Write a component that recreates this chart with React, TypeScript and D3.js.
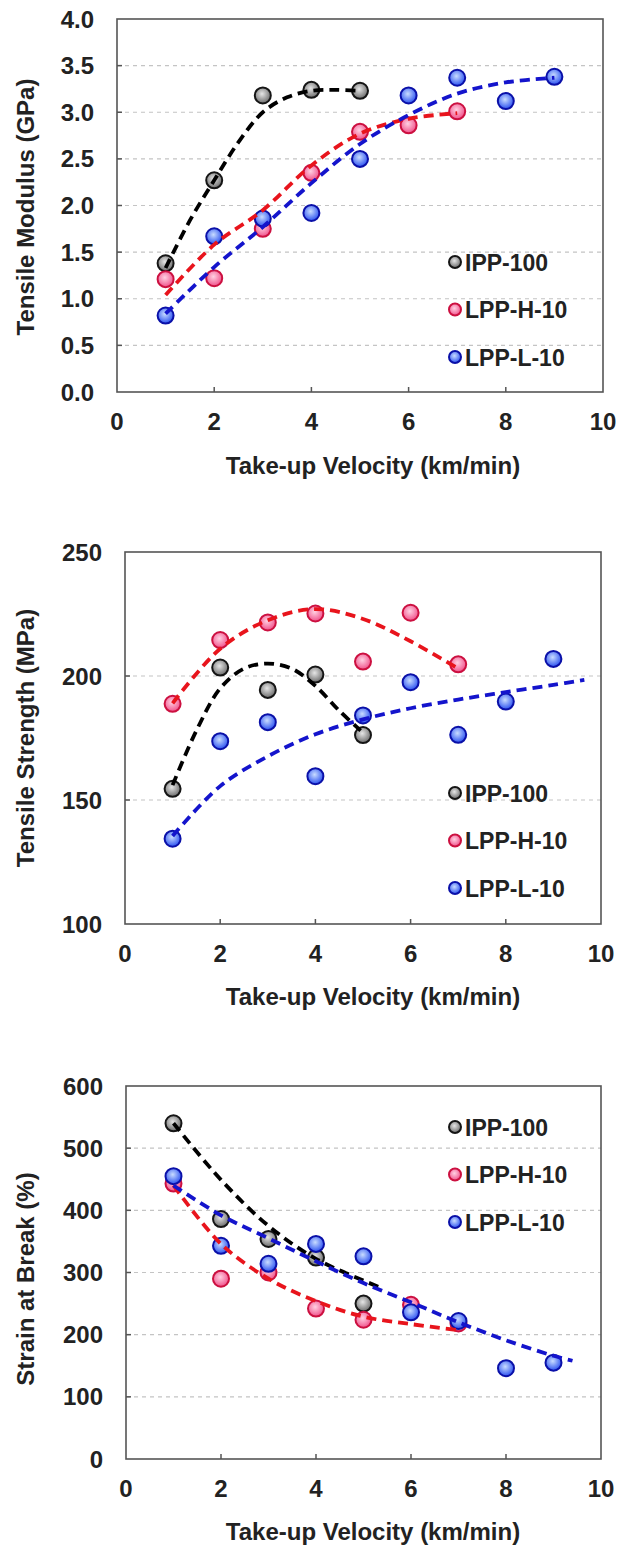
import React from "react";
import * as d3 from "d3";

// ---------- data ----------
const velocity = [1, 2, 3, 4, 5, 6, 7, 8, 9];
const xTicks = [0, 2, 4, 6, 8, 10];
const seriesNames = ["IPP-100", "LPP-H-10", "LPP-L-10"];

// Tensile modulus (GPa)
const modIPP = [1.38, 2.27, 3.18, 3.24, 3.23];
const modLPPH = [1.21, 1.22, 1.75, 2.35, 2.79, 2.86, 3.01];
const modLPPL = [0.82, 1.67, 1.86, 1.92, 2.5, 3.18, 3.37, 3.12, 3.38];
const modFitIPP: [number, number][] = [[1, 1.33], [1.5, 1.84], [2, 2.27], [2.5, 2.68], [3, 3.0], [3.5, 3.16], [4, 3.23], [4.5, 3.24], [5, 3.23]];
const modFitLPPH: [number, number][] = [[1, 1.04], [2, 1.58], [3, 1.95], [4, 2.43], [5, 2.77], [6, 2.93], [7, 2.99]];
const modFitLPPL: [number, number][] = [[1, 0.84], [2, 1.34], [3, 1.77], [4, 2.24], [5, 2.66], [6, 2.97], [7, 3.2], [8, 3.32], [9, 3.37]];
const modTicks = [0, 0.5, 1, 1.5, 2, 2.5, 3, 3.5, 4];

// Tensile strength (MPa)
const strIPP = [154.5, 203.4, 194.4, 200.6, 176.2];
const strLPPH = [188.8, 214.5, 221.6, 225.2, 205.8, 225.5, 204.7];
const strLPPL = [134.4, 173.7, 181.4, 159.6, 184.1, 197.5, 176.3, 189.7, 206.9];
const strFitIPP: [number, number][] = [[1, 156], [1.5, 178], [2, 195], [2.5, 203], [3, 205], [3.5, 203], [4, 196], [4.5, 186], [4.95, 178]];
const strFitLPPH: [number, number][] = [[1, 189], [2, 211], [3, 222.5], [4, 227], [5, 223], [6, 214], [7, 203]];
const strFitLPPL: [number, number][] = [[1, 135.5], [2, 155.6], [3, 167.6], [4, 176.5], [5, 182.5], [6, 187], [7, 190.5], [8, 193.5], [9, 196.4], [9.65, 198.4]];
const strTicks = [100, 150, 200, 250];

// Strain at break (%)
const strainIPP = [540, 386, 354, 324, 250];
const strainLPPH = [443, 290, 300, 242, 224, 248, 218];
const strainLPPL = [455, 343, 314, 346, 326, 236, 222, 146, 155];
const strainFitIPP: [number, number][] = [[1, 540], [2, 449], [3, 375], [4, 322], [5, 287], [5.35, 276]];
const strainFitLPPH: [number, number][] = [[1, 440], [2, 346], [3, 290], [4, 254], [5, 229], [6, 217], [7, 207]];
const strainFitLPPL: [number, number][] = [[1, 440], [2, 392], [3, 355], [4, 318], [5, 283], [6, 252], [7, 220], [8, 191], [9, 166], [9.4, 158]];
const strainTicks = [0, 100, 200, 300, 400, 500, 600];

// ---------- styles ----------
const FONT = "'Liberation Sans', Arial, Helvetica, sans-serif";
const lineColors = ["#000000", "#e8141c", "#1414cc"];
const strokeColors = ["#151515", "#cc1040", "#0a10a8"];
const gradIds = ["gBlack", "gRed", "gBlue"];

type PanelCfg = {
  box: { l: number; r: number; t: number; b: number };
  yDomain: [number, number];
  yTicks: number[];
  fmt: (v: number) => string;
  yTitle: string;
  yTitleY: number;
  xTitleY: number;
  legendTop: number;
  points: number[][];
  fits: [number, number][][];
};

const panels: PanelCfg[] = [
  {
    box: { l: 117, r: 603, t: 19, b: 392 },
    yDomain: [0, 4],
    yTicks: modTicks,
    fmt: d3.format(".1f"),
    yTitle: "Tensile Modulus (GPa)",
    yTitleY: 207,
    xTitleY: 474,
    legendTop: 262,
    points: [modIPP, modLPPH, modLPPL],
    fits: [modFitIPP, modFitLPPH, modFitLPPL],
  },
  {
    box: { l: 125, r: 601, t: 552, b: 924 },
    yDomain: [100, 250],
    yTicks: strTicks,
    fmt: d3.format("d"),
    yTitle: "Tensile Strength (MPa)",
    yTitleY: 738,
    xTitleY: 1005,
    legendTop: 793,
    points: [strIPP, strLPPH, strLPPL],
    fits: [strFitIPP, strFitLPPH, strFitLPPL],
  },
  {
    box: { l: 126, r: 601, t: 1086, b: 1459 },
    yDomain: [0, 600],
    yTicks: strainTicks,
    fmt: d3.format("d"),
    yTitle: "Strain at Break (%)",
    yTitleY: 1279,
    xTitleY: 1540,
    legendTop: 1127,
    points: [strainIPP, strainLPPH, strainLPPL],
    fits: [strainFitIPP, strainFitLPPH, strainFitLPPL],
  },
];

function Panel({ cfg }: { cfg: PanelCfg }) {
  const { box } = cfg;
  const x = d3.scaleLinear().domain([0, 10]).range([box.l, box.r]);
  const y = d3.scaleLinear().domain(cfg.yDomain).range([box.b, box.t]);
  const line = d3
    .line<[number, number]>()
    .x((d) => x(d[0]))
    .y((d) => y(d[1]))
    .curve(d3.curveCatmullRom.alpha(0.5));
  const interior = cfg.yTicks.slice(1, -1);
  return (
    <g>
      {interior.map((t) => (
        <line key={"g" + t} x1={box.l} x2={box.r} y1={y(t)} y2={y(t)} stroke="#c4c4c4" strokeWidth={1.2} strokeDasharray="4,4" />
      ))}
      {interior.map((t) => (
        <line key={"yt" + t} x1={box.l} x2={box.l + 5} y1={y(t)} y2={y(t)} stroke="#555" strokeWidth={1.5} />
      ))}
      {xTicks.slice(1, -1).map((t) => (
        <line key={"xt" + t} x1={x(t)} x2={x(t)} y1={box.b} y2={box.b - 5} stroke="#555" strokeWidth={1.5} />
      ))}
      <rect x={box.l} y={box.t} width={box.r - box.l} height={box.b - box.t} fill="none" stroke="#555" strokeWidth={1.6} />
      {cfg.yTicks.map((t) => (
        <text key={"yl" + t} x={box.l - 23} y={y(t) + 8.5} textAnchor="end" fontSize={24} fontWeight="bold" fill="#222">
          {cfg.fmt(t)}
        </text>
      ))}
      {xTicks.map((t) => (
        <text key={"xl" + t} x={x(t)} y={box.b + 38} textAnchor="middle" fontSize={24} fontWeight="bold" fill="#222">
          {t}
        </text>
      ))}
      <text x={373} y={cfg.xTitleY} textAnchor="middle" fontSize={24} fontWeight="bold" fill="#222">
        Take-up Velocity (km/min)
      </text>
      <text transform={`translate(34,${cfg.yTitleY}) rotate(-90)`} textAnchor="middle" fontSize={24} fontWeight="bold" fill="#222">
        {cfg.yTitle}
      </text>
      {cfg.points.map((vals, si) => (
        <g key={"s" + si}>
          {vals.map((v, i) => (
            <circle key={i} cx={x(velocity[i])} cy={y(v)} r={8} fill={`url(#${gradIds[si]})`} stroke={strokeColors[si]} strokeWidth={2} />
          ))}
        </g>
      ))}
      {cfg.fits.map((f, si) => (
        <path key={"f" + si} d={line(f) || ""} fill="none" stroke={lineColors[si]} strokeWidth={3.8} strokeDasharray="10,6" />
      ))}
      {seriesNames.map((n, si) => (
        <g key={"lg" + si} transform={`translate(455,${cfg.legendTop + si * 47.5})`}>
          <circle cx={0} cy={0} r={6} fill={`url(#${gradIds[si]})`} stroke={strokeColors[si]} strokeWidth={2} />
          <text x={10} y={8.5} fontSize={23} fontWeight="bold" fill="#222">
            {n}
          </text>
        </g>
      ))}
    </g>
  );
}

export default function App() {
  return (
    <svg width={618} height={1548} style={{ position: "absolute", left: 0, top: 0, background: "#fff" }} fontFamily={FONT}>
      <defs>
        <radialGradient id="gBlack" cx="0.45" cy="0.4" r="0.6">
          <stop offset="0" stopColor="#e6e6e6" />
          <stop offset="1" stopColor="#6a6a6a" />
        </radialGradient>
        <radialGradient id="gRed" cx="0.45" cy="0.4" r="0.6">
          <stop offset="0" stopColor="#ffd0e2" />
          <stop offset="1" stopColor="#f0508a" />
        </radialGradient>
        <radialGradient id="gBlue" cx="0.45" cy="0.4" r="0.6">
          <stop offset="0" stopColor="#c8dcff" />
          <stop offset="1" stopColor="#2a50f0" />
        </radialGradient>
      </defs>
      <rect x={0} y={0} width={618} height={1548} fill="#fff" />
      {panels.map((p, i) => (
        <Panel key={i} cfg={p} />
      ))}
    </svg>
  );
}
